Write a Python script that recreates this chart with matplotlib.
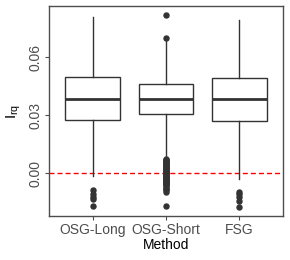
import matplotlib
matplotlib.use("Agg")
import matplotlib.pyplot as plt

plt.rcParams['font.family'] = ['Liberation Sans', 'DejaVu Sans']

methods = ["OSG-Long", "OSG-Short", "FSG"]
q1 = [0.0277, 0.0306, 0.0270]
median = [0.0384, 0.0384, 0.0384]
q3 = [0.0500, 0.0462, 0.0491]
whisker_low = [-0.0015, 0.0076, -0.0030]
whisker_high = [0.0808, 0.0690, 0.0794]
outliers_long = [-0.0088, -0.0106, -0.0123, -0.0137, -0.0170]
outliers_short = [0.0820, 0.0702,
                  0.0074, 0.0070, 0.0066, 0.0062, 0.0058, 0.0054, 0.0050,
                  0.0046, 0.0042, 0.0038, 0.0034, 0.0030, 0.0026, 0.0022,
                  0.0018, 0.0014, 0.0010, 0.0006, 0.0002, -0.0002, -0.0006,
                  -0.0010, -0.0014, -0.0018, -0.0022, -0.0026, -0.0030,
                  -0.0034, -0.0038, -0.0042, -0.0046, -0.0050, -0.0054,
                  -0.0058, -0.0062, -0.0068, -0.0075, -0.0082, -0.0090,
                  -0.0097, -0.0171]
outliers_fsg = [-0.0097, -0.0110, -0.0126, -0.0144, -0.0175]
fliers = [outliers_long, outliers_short, outliers_fsg]
yticks = [0.00, 0.03, 0.06]
ytick_labels = ["0.00", "0.03", "0.06"]

stats = []
for i, m in enumerate(methods):
    stats.append(dict(label=m, q1=q1[i], med=median[i], q3=q3[i],
                      whislo=whisker_low[i], whishi=whisker_high[i],
                      fliers=fliers[i]))

fig = plt.figure(figsize=(2.9, 2.6), dpi=100)
ax = fig.add_axes([0.169, 0.169, 0.807, 0.808])

dark = "#333333"
ax.axhline(0, color="#FF0000", linestyle=(0, (3.6, 2.2)), linewidth=1.0, zorder=1)
ax.bxp(stats, positions=[1, 2, 3], widths=0.75, showfliers=True,
       patch_artist=True,
       boxprops=dict(facecolor="white", edgecolor=dark, linewidth=1.0),
       medianprops=dict(color=dark, linewidth=2.0),
       whiskerprops=dict(color=dark, linewidth=1.0),
       capprops=dict(linewidth=0),
       flierprops=dict(marker="o", markerfacecolor=dark, markeredgecolor=dark,
                       markersize=3.6, linestyle="none"),
       zorder=2)

ax.set_xlim(0.4, 3.6)
ax.set_ylim(-0.0223, 0.0867)
ax.set_yticks(yticks)
ax.set_yticklabels(ytick_labels, rotation=90, va="center")
ax.set_xticks([1, 2, 3])
ax.set_xticklabels(methods)
ax.tick_params(axis="both", colors="#4D4D4D", labelsize=10, length=3,
               width=0.8, pad=2)
ax.tick_params(axis="both", labelcolor="#4D4D4D")
for s in ax.spines.values():
    s.set_color("#4D4D4D")
    s.set_linewidth(1.0)
ax.set_xlabel("Method", fontsize=10, color="black", labelpad=1)
ax.set_ylabel(r"$\mathregular{I_{rq}}$", fontsize=11, color="black", labelpad=4)

fig.savefig("out.png", dpi=100)
